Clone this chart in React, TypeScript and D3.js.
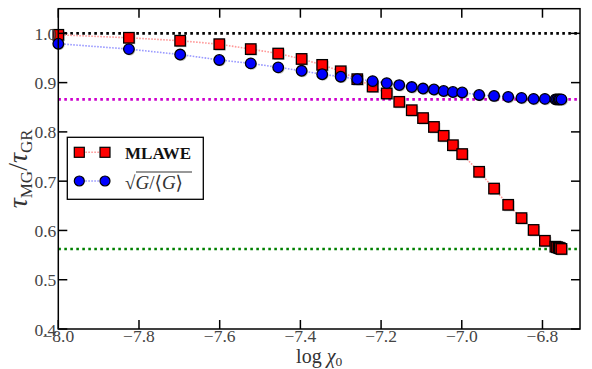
import React from "react";
import * as d3 from "d3";

const logChi = [-8.0, -7.825, -7.698, -7.601, -7.523, -7.455, -7.397, -7.346, -7.3, -7.259, -7.221, -7.186, -7.155, -7.124, -7.096, -7.069, -7.045, -7.022, -6.999, -6.957, -6.92, -6.885, -6.852, -6.822, -6.794, -6.768, -6.764, -6.76, -6.757, -6.753];
const mlawe = [0.997, 0.991, 0.985, 0.978, 0.968, 0.959, 0.948, 0.936, 0.923, 0.907, 0.892, 0.878, 0.861, 0.844, 0.828, 0.81, 0.792, 0.773, 0.755, 0.719, 0.685, 0.652, 0.625, 0.601, 0.579, 0.567, 0.566, 0.565, 0.564, 0.5625];
const sqrtG = [0.979, 0.968, 0.957, 0.946, 0.939, 0.931, 0.924, 0.917, 0.912, 0.907, 0.903, 0.899, 0.895, 0.891, 0.888, 0.886, 0.883, 0.881, 0.88, 0.875, 0.873, 0.871, 0.869, 0.867, 0.867, 0.866, 0.866, 0.866, 0.866, 0.866];
const refLines = [1.0, 0.866, 0.5625];
const refColors = ["#000000", "#cc00cc", "#008000"];
const xTicks = [-8.0, -7.8, -7.6, -7.4, -7.2, -7.0, -6.8];
const yTicks = [0.4, 0.5, 0.6, 0.7, 0.8, 0.9, 1.0];

const W = 592, H = 369;
const L = 58.3, R = 580, T = 8.7, B = 329;
const FONT = "Liberation Serif, Times New Roman, DejaVu Serif, serif";

export default function App() {
  const x = d3.scaleLinear().domain([-8.0, -6.707]).range([L, R]);
  const y = d3.scaleLinear().domain([0.4, 1.05]).range([B, T]);
  const lineR = d3.line<number>().x((_, i) => x(logChi[i])).y((d) => y(d));
  const sq = 10.5;
  const rc = 5.3;
  const fmt = (v: number) => (v < 0 ? "\u2212" : "") + Math.abs(v).toFixed(1);
  const fs = { fontFamily: FONT };

  return (
    <svg width={W} height={H} style={{ position: "absolute", left: 0, top: 0, background: "#fff" }}>
      {refLines.map((v, i) => (
        <line key={"ref" + i} x1={L} x2={R} y1={y(v)} y2={y(v)} stroke={refColors[i]} strokeWidth={2.6} strokeDasharray="2.6,3.4" />
      ))}
      <path d={lineR(mlawe) || ""} fill="none" stroke="#ff9a9a" strokeWidth={1.6} strokeDasharray="1.6,1.4" />
      {mlawe.map((v, i) => (
        <g key={"s" + i}>
          <rect x={x(logChi[i]) - sq / 2 + 1.2} y={y(v) - sq / 2 + 1.2} width={sq} height={sq} fill="#00000040" />
          <rect x={x(logChi[i]) - sq / 2} y={y(v) - sq / 2} width={sq} height={sq} fill="#ff0000" stroke="#000" strokeWidth={1.3} />
        </g>
      ))}
      <path d={lineR(sqrtG) || ""} fill="none" stroke="#9a9aff" strokeWidth={1.6} strokeDasharray="1.6,1.4" />
      {sqrtG.map((v, i) => (
        <g key={"c" + i}>
          <circle cx={x(logChi[i]) + 1.1} cy={y(v) + 1.1} r={rc} fill="#00000040" />
          <circle cx={x(logChi[i])} cy={y(v)} r={rc} fill="#0000ff" stroke="#000" strokeWidth={1.3} />
        </g>
      ))}
      <rect x={L} y={T} width={R - L} height={B - T} fill="none" stroke="#000" strokeWidth={1.5} />
      {xTicks.map((t) => (
        <g key={"xt" + t}>
          <line x1={x(t)} x2={x(t)} y1={B} y2={B - 9} stroke="#000" strokeWidth={1.5} />
          <line x1={x(t)} x2={x(t)} y1={T} y2={T + 9} stroke="#000" strokeWidth={1.5} />
          <text x={x(t)} y={342} textAnchor="middle" style={fs} fontSize={17.5} fill="#444">{fmt(t)}</text>
        </g>
      ))}
      {yTicks.map((t) => (
        <g key={"yt" + t}>
          <line x1={L} x2={L + 9} y1={y(t)} y2={y(t)} stroke="#000" strokeWidth={1.5} />
          <line x1={R} x2={R - 9} y1={y(t)} y2={y(t)} stroke="#000" strokeWidth={1.5} />
          <text x={L - 2} y={y(t) + 6.5} textAnchor="end" style={fs} fontSize={17.5} fill="#444">{t.toFixed(1)}</text>
        </g>
      ))}
      <text x={(L + R) / 2} y={363} textAnchor="middle" style={fs} fontSize={20} fill="#333">
        log <tspan fontStyle="italic">χ</tspan><tspan fontSize={13.5} dy={3}>0</tspan>
      </text>
      <text transform={`translate(27, ${(T + B) / 2}) rotate(-90)`} textAnchor="middle" style={fs} fontSize={28} fill="#333">
        <tspan fontStyle="italic">τ</tspan><tspan fontSize={17} dy={5}>MG</tspan><tspan dy={-5}>/</tspan><tspan fontStyle="italic">τ</tspan><tspan fontSize={17} dy={5}>GR</tspan>
      </text>
      <rect x={67.3} y={137.3} width={136} height={62} fill="#fff" stroke="#000" strokeWidth={1.3} />
      <line x1={79.3} x2={105} y1={152.3} y2={152.3} stroke="#ff9a9a" strokeWidth={1.6} strokeDasharray="1.6,1.4" />
      {[79.3, 105].map((cx) => (
        <rect key={"ls" + cx} x={cx - 5} y={152.3 - 5} width={10} height={10} fill="#ff0000" stroke="#000" strokeWidth={1.2} />
      ))}
      <text x={125} y={158.5} style={fs} fontSize={17} fontWeight="bold" fill="#111">MLAWE</text>
      <line x1={79.3} x2={105} y1={181} y2={181} stroke="#9a9aff" strokeWidth={1.6} strokeDasharray="1.6,1.4" />
      {[79.3, 105].map((cx) => (
        <circle key={"lc" + cx} cx={cx} cy={181} r={5} fill="#0000ff" stroke="#000" strokeWidth={1.2} />
      ))}
      <text x={125} y={189} style={fs} fontSize={19} fill="#333">
        √<tspan fontStyle="italic">G</tspan>/⟨<tspan fontStyle="italic">G</tspan>⟩
      </text>
      <line x1={136} x2={192} y1={172} y2={172} stroke="#333" strokeWidth={1.1} />
    </svg>
  );
}
